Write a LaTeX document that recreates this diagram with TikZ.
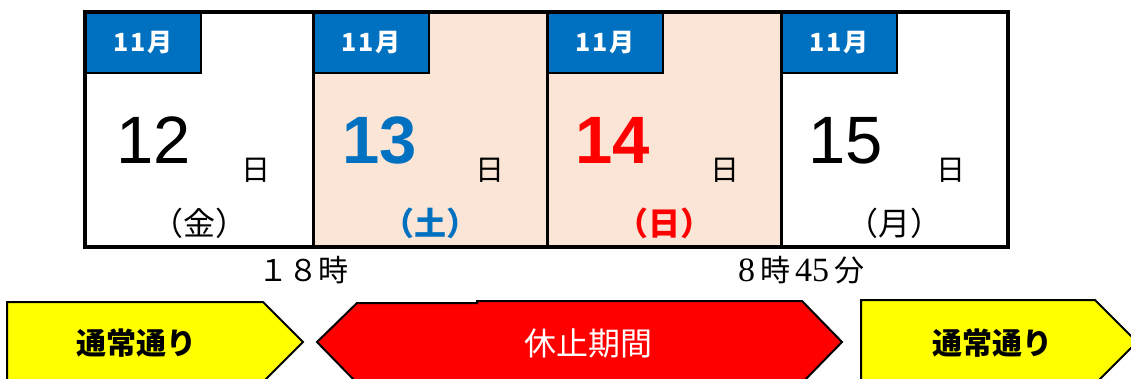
\documentclass[tikz,border=0pt]{standalone}
\usepackage{fontspec}
\setmainfont{Liberation Sans}
\newfontfamily\jp{Noto Sans CJK JP}
\newfontfamily\lserif{Liberation Serif}
\definecolor{tabblue}{HTML}{0070C0}
\definecolor{peach}{HTML}{FBE5D6}
\definecolor{arrowred}{HTML}{FF0000}
\definecolor{arrowyellow}{HTML}{FFFF00}
\begin{document}
\begin{tikzpicture}[x=1pt,y=-1pt,
  txt/.style={inner sep=0pt, outer sep=0pt},
  tabbox/.style={fill=tabblue},
  tabtext/.style={txt, text=white, font=\jp\bfseries\fontsize{25}{25}\selectfont},
  bignum/.style={txt, anchor=base west, font=\fontsize{67}{67}\selectfont},
  daychar/.style={txt, font=\jp\fontsize{29}{29}\selectfont},
  weekday/.style={txt, font=\jp\fontsize{32}{32}\selectfont},
  timetext/.style={txt, font=\jp\fontsize{30}{30}\selectfont},
  banner/.style={draw=black, line width=2pt, line join=miter},
  bannertext/.style={txt, font=\jp\bfseries\fontsize{30}{30}\selectfont},
]
\useasboundingbox (0,0) rectangle (1131,378);
% column backgrounds
\fill[peach] (313,12) rectangle (781,247);
% month tabs
\foreach \l/\n in {85/a,313/b,547/c,781/d}{
  \fill[tabbox] (\l,12) rectangle ++(116,61);
  \draw[line width=2.5pt] (\l+116,12) -- (\l+116,73) -- (\l,73);
  \node[tabtext] (tab\n) at (\l+58,43) {1\kern2pt1\kern2pt月};
}
% frame and dividers
\draw[line width=4pt] (85,12) rectangle (1008,247);
\draw[line width=3pt] (313,12) -- (313,247) (547,12) -- (547,247) (781,12) -- (781,247);
% numbers
\node[bignum] (n12) at (116,163) {12};
\node[bignum, text=tabblue, font=\bfseries\fontsize{67}{67}\selectfont] (n13) at (342,163) {13};
\node[bignum, text=arrowred, font=\bfseries\fontsize{67}{67}\selectfont] (n14) at (575,163) {14};
\node[bignum] (n15) at (808,163) {15};
% day char
\node[daychar] (d1) at (256,170) {日};
\node[daychar] (d2) at (490,170) {日};
\node[daychar] (d3) at (725,170) {日};
\node[daychar] (d4) at (951,170) {日};
% weekdays
\node[weekday] (w1) at (199,223) {（金）};
\node[weekday, text=tabblue, font=\jp\bfseries\fontsize{32}{32}\selectfont] (w2) at (430,223) {（土）};
\node[weekday, text=arrowred, font=\jp\bfseries\fontsize{32}{32}\selectfont] (w3) at (664,223) {（日）};
\node[weekday] (w4) at (894,223) {（月）};
% times
\node[timetext] (t1) at (303,270) {１８時};
\node[txt] (t2) at (801,270) {{\lserif\fontsize{34}{34}\selectfont 8}\hspace{5pt}{\jp\fontsize{30}{30}\selectfont 時}\hspace{5pt}{\lserif\fontsize{34}{34}\selectfont 45}\hspace{5pt}{\jp\fontsize{30}{30}\selectfont 分}};
% banners
\draw[banner, fill=arrowyellow] (7,302) -- (263,302) -- (303,342) -- (263,382) -- (7,382) -- cycle;
\draw[banner, fill=arrowred] (317,342) -- (357,303) -- (477,303) -- (477,301) -- (802,301) -- (842,342) -- (802,383) -- (357,383) -- cycle;
\draw[banner, fill=arrowyellow] (861,300) -- (1095,300) -- (1137,342) -- (1095,384) -- (861,384) -- cycle;
\node[bannertext] (b1) at (136,343) {通常通り};
\node[txt, text=white, font=\jp\fontsize{32}{32}\selectfont] (b2) at (588,343) {休止期間};
\node[bannertext] (b3) at (992,343) {通常通り};
\end{tikzpicture}
\end{document}
